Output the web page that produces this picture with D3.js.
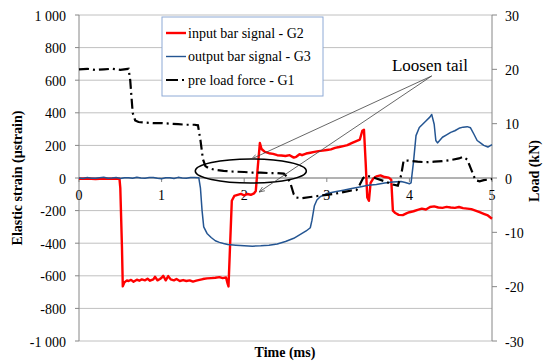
<!DOCTYPE html>
<html>
<head>
<meta charset="utf-8">
<script src="https://cdn.jsdelivr.net/npm/d3@7"></script>
<style>
  body { margin: 0; background: #fff; }
  text { font-family: "Liberation Serif", "Times New Roman", serif; fill: #000; }
</style>
</head>
<body>
<script>
// input bar signal - G2  [time ms, microstrain]
var g2 = [[0,-5],[0.1,-3],[0.2,-6],[0.3,-4],[0.4,-5],[0.49,-4],[0.5,-60],[0.52,-420],[0.53,-665],
  [0.55,-640],[0.58,-628],[0.6,-632],[0.63,-625],[0.66,-636],[0.7,-624],[0.73,-630],[0.76,-622],
  [0.8,-628],[0.83,-618],[0.86,-630],[0.9,-622],[0.92,-606],[0.95,-628],[0.98,-620],[1.0,-612],
  [1.02,-600],[1.05,-628],[1.08,-602],[1.11,-622],[1.15,-628],[1.18,-620],[1.22,-632],[1.26,-626],
  [1.3,-632],[1.34,-628],[1.38,-636],[1.42,-630],[1.46,-625],[1.5,-620],[1.55,-616],[1.6,-614],
  [1.65,-612],[1.7,-608],[1.74,-614],[1.78,-610],[1.8,-650],[1.81,-665],[1.83,-400],[1.85,-140],
  [1.88,-110],[1.92,-104],[1.96,-98],[2.0,-106],[2.04,-98],[2.08,-103],[2.12,-94],[2.14,-80],
  [2.17,100],[2.19,215],[2.21,178],[2.25,160],[2.3,152],[2.35,148],[2.4,140],[2.45,138],[2.5,135],
  [2.55,140],[2.6,125],[2.63,130],[2.67,146],[2.7,140],[2.75,150],[2.8,155],[2.85,160],[2.9,165],
  [2.95,168],[3.0,172],[3.05,176],[3.1,185],[3.15,190],[3.2,196],[3.25,202],[3.3,214],[3.35,225],
  [3.4,236],[3.43,290],[3.45,296],[3.47,100],[3.49,-120],[3.51,-140],[3.53,-30],[3.56,-5],
  [3.6,10],[3.65,16],[3.7,6],[3.75,2],[3.78,-10],[3.8,-200],[3.83,-215],[3.87,-226],[3.92,-228],
  [3.97,-216],[4.0,-210],[4.05,-204],[4.1,-195],[4.15,-188],[4.2,-193],[4.25,-178],[4.3,-174],
  [4.35,-181],[4.4,-183],[4.45,-177],[4.5,-181],[4.55,-183],[4.6,-178],[4.65,-185],[4.7,-188],
  [4.75,-191],[4.8,-200],[4.85,-210],[4.9,-220],[4.95,-230],[5.0,-250]];

// output bar signal - G3  [time ms, microstrain]
var g3 = [[0,0],[0.05,-3],[0.1,3],[0.15,-1],[0.2,-2],[0.25,2],[0.3,4],[0.35,-2],[0.4,0],[0.45,3],
  [0.5,-3],[0.55,1],[0.6,2],[0.65,-2],[0.7,5],[0.75,0],[0.8,-1],[0.85,3],[0.9,3],[0.95,-2],
  [1.0,-4],[1.05,1],[1.1,2],[1.15,-3],[1.2,4],[1.25,0],[1.3,-2],[1.35,3],[1.4,3],[1.45,2],
  [1.47,-60],[1.49,-200],[1.51,-300],
  [1.55,-340],[1.6,-365],[1.65,-385],[1.7,-395],[1.75,-402],[1.8,-408],[1.9,-412],[2.0,-415],
  [2.1,-418],[2.2,-416],[2.3,-412],[2.4,-405],[2.5,-390],[2.6,-370],[2.7,-340],[2.75,-325],
  [2.8,-305],[2.82,-260],[2.85,-170],[2.88,-135],[2.92,-115],[2.96,-105],[3.0,-95],[3.1,-85],
  [3.2,-75],[3.3,-65],[3.4,-55],[3.5,-45],[3.6,-40],[3.7,-30],[3.8,-25],[3.9,-22],[3.95,-28],
  [4.0,-35],[4.02,-30],[4.05,100],[4.08,260],[4.12,310],[4.16,330],[4.2,350],[4.25,375],
  [4.27,390],[4.3,330],[4.32,230],[4.34,215],[4.4,250],[4.45,265],[4.5,280],[4.55,290],
  [4.6,305],[4.65,312],[4.7,315],[4.74,308],[4.78,270],[4.82,230],[4.86,215],[4.9,200],
  [4.95,190],[5.0,205]];

// pre load force - G1  [time ms, kN]
var g1 = [[0,20],[0.1,20.1],[0.2,19.9],[0.3,20],[0.4,20.1],[0.5,19.9],[0.6,20.1],[0.62,18],
  [0.65,12],[0.68,10.6],[0.72,10.3],[0.8,10.2],[0.9,10.1],[1.0,10.1],[1.1,10],[1.2,9.9],
  [1.3,9.8],[1.4,9.8],[1.44,9.7],[1.47,7],[1.5,3.5],[1.53,2.2],[1.57,1.8],[1.65,1.5],[1.75,1.3],
  [1.85,1.2],[2.0,1.1],[2.1,1.0],[2.2,1.0],[2.3,0.9],[2.4,0.9],[2.48,0.8],[2.52,0.2],[2.56,-1.0],
  [2.6,-3.0],[2.63,-3.6],[2.7,-3.7],[2.8,-3.5],[2.9,-3.3],[3.0,-3.1],[3.1,-2.9],[3.2,-2.6],
  [3.3,-2.3],[3.36,-2.2],[3.4,-1.2],[3.44,0.0],[3.48,0.4],[3.55,0.2],[3.6,-0.1],[3.7,-0.6],
  [3.8,-1.2],[3.86,-1.4],[3.9,0.5],[3.93,3.2],[3.98,3.2],[4.1,3.0],[4.2,2.9],[4.3,3.0],[4.4,3.1],
  [4.5,3.3],[4.6,3.6],[4.65,3.9],[4.7,3.4],[4.75,1.5],[4.8,-0.4],[4.85,-0.6],[4.9,-0.4],[5.0,-0.2]];

var xTicks = [0, 1, 2, 3, 4, 5];
var yTicks = [-1000, -800, -600, -400, -200, 0, 200, 400, 600, 800, 1000];
var y2Ticks = [-30, -20, -10, 0, 10, 20, 30];
var legendNames = ["input bar signal - G2", "output bar signal - G3", "pre load force - G1"];

// annotation: ellipse [t, v, half width ms, half height µstrain], arrows from text to targets
var loosenEllipse = [2.08, 43, 0.672, 74];
var loosenFrom = [4.27, 626];
var loosenTo = [[2.09, 117], [2.18, -86]];

var W = 543, H = 363;
var pL = 79, pR = 492, pT = 15, pB = 341;

var svg = d3.select("body").append("svg").attr("width", W).attr("height", H);

var x = d3.scaleLinear().domain([0, 5]).range([pL, pR]);
var y = d3.scaleLinear().domain([-1000, 1000]).range([pB, pT]);
var y2 = d3.scaleLinear().domain([-30, 30]).range([pB, pT]);

function fmt(d) {
  var s = d3.format(",")(d);
  return s.replace(/,/g, " ").replace("−", "-");
}

// gridlines
svg.append("g").selectAll("line").data(yTicks).enter().append("line")
  .attr("x1", pL).attr("x2", pR)
  .attr("y1", function (d) { return y(d); }).attr("y2", function (d) { return y(d); })
  .style("stroke", "#c0c0c0").style("stroke-width", 1);

// left axis
var la = svg.append("g");
la.append("line").attr("x1", pL).attr("x2", pL).attr("y1", pT).attr("y2", pB)
  .style("stroke", "#868686");
la.selectAll(".t").data(yTicks).enter().append("line")
  .attr("x1", pL - 4).attr("x2", pL)
  .attr("y1", function (d) { return y(d); }).attr("y2", function (d) { return y(d); })
  .style("stroke", "#868686");
la.selectAll("text").data(yTicks).enter().append("text")
  .attr("x", 66).attr("y", function (d) { return y(d); }).attr("dy", "0.4em")
  .attr("text-anchor", "end").style("font-size", "14px")
  .text(fmt);

// right axis
var ra = svg.append("g");
ra.append("line").attr("x1", pR).attr("x2", pR).attr("y1", pT).attr("y2", pB)
  .style("stroke", "#868686");
ra.selectAll(".t").data(y2Ticks).enter().append("line")
  .attr("x1", pR).attr("x2", pR + 5)
  .attr("y1", function (d) { return y2(d); }).attr("y2", function (d) { return y2(d); })
  .style("stroke", "#868686");
ra.selectAll("text").data(y2Ticks).enter().append("text")
  .attr("x", 505).attr("y", function (d) { return y2(d); }).attr("dy", "0.4em")
  .style("font-size", "14px")
  .text(function (d) { return String(d); });

// x axis on the zero line
var xa = svg.append("g");
xa.append("line").attr("x1", pL).attr("x2", pR).attr("y1", y(0)).attr("y2", y(0))
  .style("stroke", "#868686");
xa.selectAll(".t").data(xTicks).enter().append("line")
  .attr("x1", function (d) { return x(d); }).attr("x2", function (d) { return x(d); })
  .attr("y1", y(0)).attr("y2", y(0) + 4)
  .style("stroke", "#868686");
xa.selectAll("text").data(xTicks).enter().append("text")
  .attr("x", function (d) { return x(d); }).attr("y", y(0) + 22)
  .attr("text-anchor", "middle").style("font-size", "14px")
  .text(function (d) { return d; });

// series
var line = d3.line().x(function (d) { return x(d[0]); }).y(function (d) { return y(d[1]); });
var line2 = d3.line().x(function (d) { return x(d[0]); }).y(function (d) { return y2(d[1]); });

svg.append("path").datum(g2).attr("d", line)
  .style("fill", "none").style("stroke", "#ff0000").style("stroke-width", 2.4)
  .style("stroke-linejoin", "round");
svg.append("path").datum(g3).attr("d", line)
  .style("fill", "none").style("stroke", "#245592").style("stroke-width", 1.5)
  .style("stroke-linejoin", "round");
svg.append("path").datum(g1).attr("d", line2)
  .style("fill", "none").style("stroke", "#000").style("stroke-width", 2.2)
  .style("stroke-dasharray", "10,4,2,4");

// annotation
svg.append("defs").append("marker")
  .attr("id", "arr").attr("viewBox", "0 0 10 10").attr("refX", 10).attr("refY", 5)
  .attr("markerWidth", 7).attr("markerHeight", 7).attr("orient", "auto")
  .append("path").attr("d", "M0,1 L10,5 L0,9")
  .style("fill", "none").style("stroke", "#404040").style("stroke-width", 1.2);

svg.append("ellipse")
  .attr("cx", x(loosenEllipse[0])).attr("cy", y(loosenEllipse[1]))
  .attr("rx", x(loosenEllipse[2]) - x(0)).attr("ry", y(0) - y(loosenEllipse[3]))
  .style("fill", "none").style("stroke", "#000").style("stroke-width", 1.6);

svg.append("g").selectAll("line").data(loosenTo).enter().append("line")
  .attr("x1", x(loosenFrom[0])).attr("y1", y(loosenFrom[1]))
  .attr("x2", function (d) { return x(d[0]); }).attr("y2", function (d) { return y(d[1]); })
  .style("stroke", "#404040").style("stroke-width", 0.8)
  .attr("marker-end", "url(#arr)");

svg.append("text").attr("x", 430).attr("y", 71).attr("text-anchor", "middle")
  .style("font-size", "17px").text("Loosen tail");

// legend
var lg = svg.append("g");
lg.append("rect").attr("x", 162).attr("y", 17).attr("width", 161).attr("height", 79)
  .style("fill", "#fff").style("stroke", "#8eaad6");
var sty = [
  { c: "#ff0000", w: 2.4, dash: null },
  { c: "#245592", w: 1.4, dash: null },
  { c: "#000", w: 2.2, dash: "12,4,2,4" }
];
legendNames.forEach(function (n, i) {
  var yy = 33 + i * 23.5;
  lg.append("line").attr("x1", 166).attr("x2", 186).attr("y1", yy).attr("y2", yy)
    .style("stroke", sty[i].c).style("stroke-width", sty[i].w)
    .style("stroke-dasharray", sty[i].dash);
  lg.append("text").attr("x", 188).attr("y", yy).attr("dy", "0.35em")
    .style("font-size", "14px").text(n);
});

// axis titles
svg.append("text").attr("transform", "translate(17,178) rotate(-90)").attr("dy", "0.35em")
  .attr("text-anchor", "middle").style("font-size", "14px").style("font-weight", "bold")
  .text("Elastic strain (µstrain)");
svg.append("text").attr("transform", "translate(534,171) rotate(-90)").attr("dy", "0.35em")
  .attr("text-anchor", "middle").style("font-size", "14px").style("font-weight", "bold")
  .text("Load (kN)");
svg.append("text").attr("x", 285).attr("y", 357)
  .attr("text-anchor", "middle").style("font-size", "14px").style("font-weight", "bold")
  .text("Time (ms)");
</script>
</body>
</html>
